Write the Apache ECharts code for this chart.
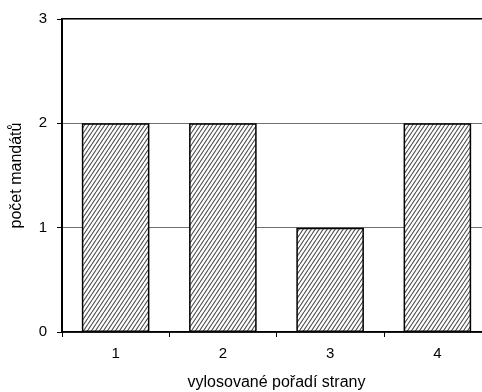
<!DOCTYPE html>
<html><head><meta charset="utf-8">
<script src="https://cdn.jsdelivr.net/npm/echarts@6/dist/echarts.min.js"></script>
<style>html,body{margin:0;padding:0;background:#fff}#c{width:482px;height:392px}</style>
</head><body><div id="c"></div>
<script>
const categories = ['1', '2', '3', '4'];
const mandates = [2, 2, 1, 2];
const yTicks = [0, 1, 2, 3];

function hatch() {
  const w = 4, h = 6;
  const c = document.createElement('canvas');
  c.width = w; c.height = h;
  const g = c.getContext('2d');
  g.fillStyle = '#ffffff';
  g.fillRect(0, 0, w, h);
  g.strokeStyle = '#505050';
  g.lineWidth = 1.1;
  g.beginPath();
  for (let k = -1; k <= 1; k++) {
    g.moveTo(k * w, h); g.lineTo(k * w + w, 0);
  }
  g.stroke();
  return c;
}

const chart = echarts.init(document.getElementById('c'));
chart.setOption({
  animation: false,
  grid: { left: 62, top: 19, right: -9, bottom: 60, outerBoundsMode: 'none', show: true, borderColor: '#000', borderWidth: 2, containLabel: false },
  xAxis: {
    type: 'category', data: categories,
    name: 'vylosované pořadí strany', nameLocation: 'middle', nameGap: 43,
    nameTextStyle: { fontFamily: 'Liberation Sans', fontSize: 16, color: '#000' },
    axisLine: { lineStyle: { color: '#000', width: 1.5 } },
    axisTick: { show: true, length: 5, lineStyle: { color: '#000' } },
    axisLabel: { fontFamily: 'Liberation Sans', fontSize: 15, color: '#000', margin: 14 }
  },
  yAxis: {
    type: 'value', min: yTicks[0], max: yTicks[yTicks.length - 1], interval: 1,
    name: 'počet mandátů', nameLocation: 'middle', nameGap: 37,
    nameTextStyle: { fontFamily: 'Liberation Sans', fontSize: 16, color: '#000' },
    axisLine: { show: true, lineStyle: { color: '#000', width: 2 } },
    axisTick: { show: true, length: 5, lineStyle: { color: '#000' } },
    axisLabel: { fontFamily: 'Liberation Sans', fontSize: 15, color: '#000', margin: 15 },
    splitLine: { show: true, lineStyle: { color: '#707070', width: 1 } }
  },
  series: [{
    type: 'bar', data: mandates, barWidth: '63%',
    itemStyle: { color: { image: hatch(), repeat: 'repeat' }, borderColor: '#000', borderWidth: 1.5 }
  }]
});
</script></body></html>
